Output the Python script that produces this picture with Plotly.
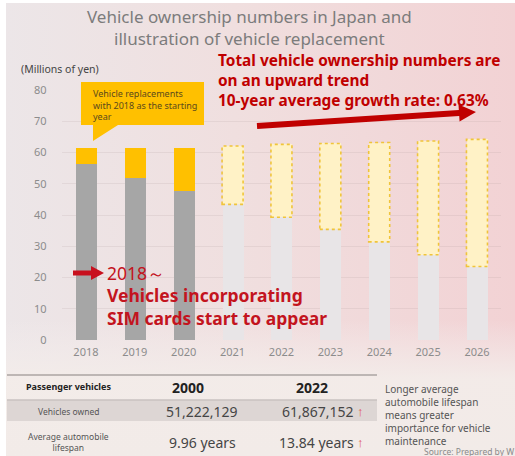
import base64
import plotly.graph_objects as go

W, H = 515, 456

# ---- data -------------------------------------------------------------
years = ["2018", "2019", "2020", "2021", "2022", "2023", "2024", "2025", "2026"]
remaining = [56.3, 52.0, 47.7, 43.4, 39.3, 35.4, 31.4, 27.3, 23.5]   # vehicles not yet replaced
replaced = [5.0, 9.3, 13.9, 18.7, 23.3, 27.5, 31.8, 36.4, 40.7]      # replaced since 2018
n_actual = 3                                                          # 2018-2020 observed, rest projected
y_ticks = [0, 10, 20, 30, 40, 50, 60, 70, 80]

table_header = ["Passenger vehicles", "2000", "2022"]
table_rows = [
    ["Vehicles owned", "51,222,129", "61,867,152"],
    ["Average automobile<br>lifespan", "9.96 years", "13.84 years"],
]
headline = ["Total vehicle ownership numbers are", "on an upward trend",
            "10-year average growth rate: 0.63%"]
side_note = ["Longer average", "automobile lifespan", "means greater",
             "importance for vehicle", "maintenance"]
callout = ["Vehicle replacements", "with 2018 as the starting", "year"]


# ---- layout helpers (pixel -> paper) ----------------------------------
def px(x):
    return x / W


def py(y):
    return 1 - y / H


def poly_path(pts):
    return "M " + " L ".join(f"{px(x):.5f},{py(y):.5f}" for x, y in pts) + " Z"


def arrow_path(sx, sy, tx, ty, body, head_len, head_half):
    dx, dy = tx - sx, ty - sy
    L = (dx * dx + dy * dy) ** 0.5
    ux, uy = dx / L, dy / L
    nx, ny = -uy, ux
    bx, by = tx - head_len * ux, ty - head_len * uy
    pts = [
        (sx + body * nx, sy + body * ny),
        (bx + body * nx, by + body * ny),
        (bx + head_half * nx, by + head_half * ny),
        (tx, ty),
        (bx - head_half * nx, by - head_half * ny),
        (bx - body * nx, by - body * ny),
        (sx - body * nx, sy - body * ny),
    ]
    return poly_path(pts)


# ---- background gradient ---------------------------------------------
svg = f"""<svg xmlns='http://www.w3.org/2000/svg' width='{W}' height='{H}' preserveAspectRatio='none'>
<defs>
<linearGradient id='h' x1='0' y1='0' x2='1' y2='0'>
<stop offset='0' stop-color='#ece6e8'/>
<stop offset='0.45' stop-color='#f0dfdf'/>
<stop offset='1' stop-color='#f2d2d4'/>
</linearGradient>
<linearGradient id='v' x1='0' y1='0' x2='0' y2='1'>
<stop offset='0' stop-color='#f4eeee' stop-opacity='0'/>
<stop offset='0.70' stop-color='#f4eeee' stop-opacity='0'/>
<stop offset='0.83' stop-color='#f3ece9' stop-opacity='0.95'/>
<stop offset='1' stop-color='#f2ebe8' stop-opacity='1'/>
</linearGradient>
</defs>
<rect width='{W}' height='{H}' fill='url(#h)'/>
<rect width='{W}' height='{H}' fill='url(#v)'/>
</svg>"""
bg_src = "data:image/svg+xml;base64," + base64.b64encode(svg.encode()).decode()

# ---- colours ----------------------------------------------------------
GRAY, LIGHT_GRAY = "#a6a6a6", "#e8e5e7"
YELLOW, PALE_YELLOW = "#ffc000", "#fff2c6"
RED = "#c00000"
NOTE_RED = "#c3141e"

remain_colors = [GRAY if i < n_actual else LIGHT_GRAY for i in range(len(years))]
replace_colors = [YELLOW if i < n_actual else PALE_YELLOW for i in range(len(years))]
BAR_W = 0.43

fig = go.Figure()
fig.add_trace(go.Bar(x=years, y=remaining, marker=dict(color=remain_colors, line_width=0),
                     width=BAR_W, hoverinfo="skip"))
fig.add_trace(go.Bar(x=years, y=replaced, marker=dict(color=replace_colors, line_width=0),
                     width=BAR_W, hoverinfo="skip"))

shapes = []
# dotted outline on projected replacement segments
for i in range(n_actual, len(years)):
    shapes.append(dict(type="rect", xref="x", yref="y",
                       x0=i - BAR_W / 2, x1=i + BAR_W / 2,
                       y0=remaining[i], y1=remaining[i] + replaced[i],
                       line=dict(color="#f0c43a", width=1.6, dash="dot"),
                       fillcolor="rgba(0,0,0,0)", layer="above"))

# callout box with tail
shapes.append(dict(type="path", xref="paper", yref="paper",
                   path=poly_path([(81, 82), (204, 82), (204, 125), (118, 125),
                                   (93, 141), (93, 125), (81, 125)]),
                   fillcolor=YELLOW, line_width=0, layer="above"))
# trend arrow
shapes.append(dict(type="path", xref="paper", yref="paper",
                   path=arrow_path(257, 126, 476, 112, 3, 17, 8.5),
                   fillcolor=RED, line_width=0, layer="above"))
# small arrow next to 2018 note
shapes.append(dict(type="path", xref="paper", yref="paper",
                   path=arrow_path(73, 273, 104, 273, 2.6, 13, 7),
                   fillcolor="#c8101e", line_width=0, layer="above"))
# table decorations
shapes.append(dict(type="rect", xref="paper", yref="paper",
                   x0=px(7), x1=px(377), y0=py(421), y1=py(400),
                   fillcolor="#ddd6d4", line_width=0, layer="below"))
shapes.append(dict(type="line", xref="paper", yref="paper",
                   x0=px(7), x1=px(377), y0=py(375), y1=py(375),
                   line=dict(color="#bdb6b4", width=2)))
shapes.append(dict(type="line", xref="paper", yref="paper",
                   x0=px(7), x1=px(377), y0=py(400), y1=py(400),
                   line=dict(color="#c9c2c0", width=1.5)))

FONT = "Noto Sans"
ann = []


def text(x, y, s, size, color, xanchor="left", bold=False, family=FONT, yanchor="middle"):
    ann.append(dict(x=px(x), y=py(y), xref="paper", yref="paper",
                    text=f"<b>{s}</b>" if bold else s,
                    showarrow=False, xanchor=xanchor, yanchor=yanchor, borderpad=0,
                    align=xanchor if xanchor != "center" else "center",
                    font=dict(family=family, size=size, color=color)))


# title
text(249, 28, "Vehicle ownership numbers in Japan and<br>illustration of vehicle replacement",
     17, "#7c7c7c", "center")
text(20, 69, "(Millions of yen)", 10.5, "#444444")

# red headline
text(217, 81, "<br>".join(headline), 15.4, RED, bold=True)

# callout text
text(92, 105, "<br>".join(callout), 9, "#5b4a1c")

# SIM-card note
text(106, 273, "2018～", 17.5, NOTE_RED)
text(106, 295, "Vehicles incorporating", 17.5, NOTE_RED, bold=True)
text(106, 318, "SIM cards start to appear", 17.5, NOTE_RED, bold=True)

# table
text(68, 386, table_header[0], 9, "#222222", "center", bold=True)
text(188, 387, table_header[1], 14, "#222222", "center", bold=True)
text(312, 387, table_header[2], 14, "#222222", "center", bold=True)

row_y = [411, 442]
for (label, v2000, v2022), ry in zip(table_rows, row_y):
    text(68, ry, label, 8.5, "#555555", "center")
    text(202, ry, v2000, 14, "#454545", "center")
    text(355, ry, v2022, 14, "#454545", "right")
    text(356, ry, "↑", 13, "#e05555")

# side note
text(384, 415, "<br>".join(side_note), 10, "#555555")
text(423, 451, "Source: Prepared by W", 8.5, "#8a8a8a")

fig.update_layout(
    width=W, height=H,
    margin=dict(l=0, r=0, t=0, b=0),
    paper_bgcolor="#ffffff",
    plot_bgcolor="rgba(0,0,0,0)",
    barmode="stack",
    bargap=0,
    showlegend=False,
    shapes=shapes,
    annotations=ann,
    images=[dict(source=bg_src, xref="paper", yref="paper", x=px(6), y=py(3),
                 sizex=1 - px(6), sizey=py(3), sizing="stretch",
                 xanchor="left", yanchor="top", layer="below")],
    xaxis=dict(domain=[61.5 / W, 501.4 / W], range=[-0.5, 8.5], type="category",
               showgrid=False, zeroline=False, showline=False, ticks="", automargin=False,
               tickfont=dict(family=FONT, size=11, color="#8c8c8c"), ticklabelstandoff=4),
    yaxis=dict(domain=[py(340), py(90)], range=[0, 80], tickvals=y_ticks,
               showgrid=True, gridcolor="rgba(170,150,150,0.16)", gridwidth=1,
               zeroline=False, showline=False, ticks="", automargin=False,
               tickfont=dict(family=FONT, size=11, color="#8c8c8c"), ticklabelstandoff=14),
)

fig.write_html("out.html")
